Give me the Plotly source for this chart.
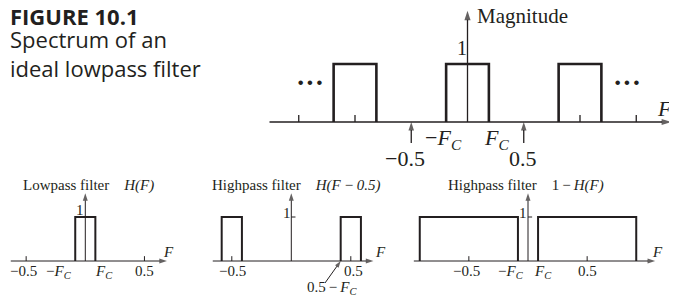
import plotly.graph_objects as go

# Reference window size and the 8px page margin offset of the html body
WIN_W, WIN_H = 677, 298
OFF = 8
W, H = WIN_W - OFF, WIN_H - OFF
INK = "#231f20"
SERIF = "Liberation Serif"
SANS = "Open Sans"

# ---------------- data ----------------
# Top: periodic spectrum of ideal lowpass filter
TOP_BANDS = [(-1.19, -0.81), (-0.19, 0.19), (0.81, 1.19)]
TOP_MAG = 1.0
TOP_TICKS = [-1.5, -1.0, 1.0, 1.5]
TOP_MARKS = [-0.5, 0.5]            # arrows below the axis
TOP_F_SPAN = (-1.76, 1.81)
TOP_MAG_TOP = 1.92

# Bottom panels
LP_BANDS = [(-0.085, 0.085)]                      # H(F)
HP1_BANDS = [(-0.585, -0.415), (0.415, 0.585)]    # H(F - 0.5)
HP2_BANDS = [(-0.915, -0.085), (0.085, 0.915)]    # 1 - H(F)
BOTTOM_MAG = 1.0
BOTTOM_TICKS = [-0.5, 0.5]
LP_SPAN = (-0.63, 0.69)
HP1_SPAN = (-0.66, 0.69)
HP2_SPAN = (-0.965, 1.075)
BOTTOM_MAG_TOP = 1.54
HP1_POINTER = (0.415, 0.0)   # 0.5 - Fc
HP1_POINTER_TAIL = (0.283, -0.5)

# ---------------- panel pixel mapping (reference window px) ----------------
PANELS = {
    "top": dict(box=(262, 677, 8, 172), org=(467.5, 122), scale=(112.5, 58)),
    "lp":  dict(box=(8, 200, 176, 298), org=(85.3, 261), scale=(118.3, 44)),
    "hp1": dict(box=(200, 400, 176, 298), org=(291.3, 261), scale=(119.0, 44)),
    "hp2": dict(box=(400, 677, 176, 298), org=(528.0, 261), scale=(118.3, 44)),
}
IDS = {"top": "", "lp": "2", "hp1": "3", "hp2": "4"}

fig = go.Figure()
layout = dict(
    width=W, height=H, margin=dict(l=0, r=0, t=0, b=0, pad=0),
    paper_bgcolor="white", plot_bgcolor="rgba(0,0,0,0)",
    showlegend=False,
)
for name, p in PANELS.items():
    bx0, bx1, by0, by1 = p["box"]
    ox, oy = p["org"]
    sx, sy = p["scale"]
    i = IDS[name]
    layout["xaxis" + i] = dict(domain=[(bx0 - OFF) / W, (bx1 - OFF) / W],
                               range=[(bx0 - ox) / sx, (bx1 - ox) / sx],
                               visible=False, anchor="y" + i)
    layout["yaxis" + i] = dict(domain=[1 - (by1 - OFF) / H, 1 - (by0 - OFF) / H],
                               range=[(oy - by1) / sy, (oy - by0) / sy],
                               visible=False, anchor="x" + i)
fig.update_layout(**layout)

annotations = []


def ax_ids(name):
    i = IDS[name]
    return "x" + i, "y" + i


def add_bands(name, bands, mag, lw):
    xr, yr = ax_ids(name)
    xs, ys = [], []
    for a, b in bands:
        xs += [a, a, b, b, None]
        ys += [0, mag, mag, 0, None]
    fig.add_trace(go.Scatter(x=xs, y=ys, mode="lines", xaxis=xr, yaxis=yr,
                             line=dict(color=INK, width=lw),
                             hoverinfo="skip"))


def add_ticks(name, ticks, h, lw):
    xr, yr = ax_ids(name)
    xs, ys = [], []
    for t in ticks:
        xs += [t, t, None]
        ys += [0, h, None]
    fig.add_trace(go.Scatter(x=xs, y=ys, mode="lines", xaxis=xr, yaxis=yr,
                             line=dict(color=INK, width=lw),
                             hoverinfo="skip"))


def arrow(name, tail, head, lw, size):
    xr, yr = ax_ids(name)
    fig.add_trace(go.Scatter(
        x=[tail[0], head[0]], y=[tail[1], head[1]], mode="lines+markers",
        xaxis=xr, yaxis=yr, cliponaxis=False,
        line=dict(color=INK, width=lw),
        marker=dict(symbol="arrow", size=[0, size], angleref="previous",
                    color=INK, line=dict(width=0)),
        hoverinfo="skip"))


def label(text, px, py, size, family=SERIF, xanchor="center", yanchor="middle",
          align="center"):
    annotations.append(dict(
        x=(px - OFF) / W, y=1 - (py - OFF) / H, xref="paper", yref="paper",
        text=text, showarrow=False, xanchor=xanchor, yanchor=yanchor,
        align=align, font=dict(family=family, size=size, color=INK)))


MINUS = "\u2212"
TH = "\u2009"
FC = "<i>F<sub>C</sub></i>"

# ---- top panel ----
add_bands("top", TOP_BANDS, TOP_MAG, 2.6)
add_ticks("top", TOP_TICKS, 0.12, 1.3)
arrow("top", (TOP_F_SPAN[0], 0), (TOP_F_SPAN[1], 0), 1.3, 10)
arrow("top", (0, 0), (0, TOP_MAG_TOP), 1.3, 10)
for m in TOP_MARKS:
    arrow("top", (m, -0.36), (m, 0), 1.3, 9)

label("Magnitude", 475, 16, 21, xanchor="left")
label("1", 461.5, 48, 20)
label(MINUS + "0.5", 405, 158, 22)
label("0.5", 523, 158, 22)
label(MINUS + FC, 443, 139, 22)
label(FC, 496, 139, 22)
label("<i>F</i>", 664, 108, 22)
label("<b>\u00b7\u00b7\u00b7</b>", 310, 82, 28)
label("<b>\u00b7\u00b7\u00b7</b>", 627, 82, 28)

# ---- lowpass panel ----
add_bands("lp", LP_BANDS, BOTTOM_MAG, 2.0)
add_ticks("lp", BOTTOM_TICKS, 0.11, 1.0)
arrow("lp", (LP_SPAN[0], 0), (LP_SPAN[1], 0), 1.0, 8)
arrow("lp", (0, 0), (0, BOTTOM_MAG_TOP), 1.0, 8)

# ---- highpass H(F-0.5) ----
add_bands("hp1", HP1_BANDS, BOTTOM_MAG, 2.0)
add_ticks("hp1", BOTTOM_TICKS, 0.11, 1.0)
arrow("hp1", (HP1_SPAN[0], 0), (HP1_SPAN[1], 0), 1.0, 8)
arrow("hp1", (0, 0), (0, BOTTOM_MAG_TOP), 1.0, 8)
arrow("hp1", HP1_POINTER_TAIL, HP1_POINTER, 1.0, 7)
fig.add_trace(go.Scatter(x=[0, 0.035], y=[BOTTOM_MAG, BOTTOM_MAG], mode="lines",
                         xaxis="x3", yaxis="y3", line=dict(color=INK, width=1),
                         hoverinfo="skip"))

# ---- highpass 1-H(F) ----
add_bands("hp2", HP2_BANDS, BOTTOM_MAG, 2.0)
add_ticks("hp2", BOTTOM_TICKS, 0.11, 1.0)
arrow("hp2", (HP2_SPAN[0], 0), (HP2_SPAN[1], 0), 1.0, 8)
arrow("hp2", (0, 0), (0, BOTTOM_MAG_TOP), 1.0, 8)
fig.add_trace(go.Scatter(x=[0, 0.035], y=[BOTTOM_MAG, BOTTOM_MAG], mode="lines",
                         xaxis="x4", yaxis="y4", line=dict(color=INK, width=1),
                         hoverinfo="skip"))

# bottom labels
NB = "\u00a0" * 4
label("Lowpass filter" + NB + "<i>H(F)</i>", 88, 185, 15)
label("Highpass filter" + NB + "<i>H(F" + TH + MINUS + TH + "0.5)</i>", 296.5, 185, 15)
label("Highpass filter" + NB + "1" + TH + MINUS + TH + "<i>H(F)</i>", 526, 185, 15)

label("1", 80, 210, 15)
label(MINUS + "0.5", 23, 271, 15)
label(MINUS + FC, 59, 272, 15)
label(FC, 104, 272, 15)
label("0.5", 144, 271, 15)
label("<i>F</i>", 168, 252, 15)

label("1", 287, 213, 15)
label(MINUS + "0.5", 232, 271, 15)
label("0.5", 353, 271, 15)
label("0.5" + TH + MINUS + TH + FC, 332, 288, 15)
label("<i>F</i>", 380, 252, 15)

label("1", 523, 213, 15)
label(MINUS + "0.5", 466.5, 271, 15)
label(MINUS + FC, 511, 272, 15)
label(FC, 543, 272, 15)
label("0.5", 587, 271, 15)
label("<i>F</i>", 657, 252, 15)

# ---- figure caption ----
label("<b>FIGURE 10.1</b>", 8, 16, 22, family=SANS, xanchor="left", align="left")
label("Spectrum of an<br>ideal lowpass filter", 8, 54, 22, family=SANS,
      xanchor="left", align="left")

fig.update_layout(annotations=annotations)
fig.write_html("out.html")
